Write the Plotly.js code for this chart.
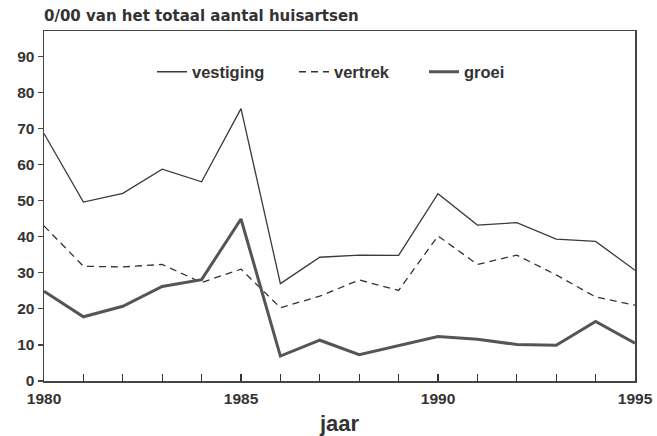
<!DOCTYPE html>
<html>
<head>
<meta charset="utf-8">
<script src="https://cdn.plot.ly/plotly-3.0.1.min.js"></script>
<style>html,body{margin:0;padding:0;background:#fff;}#chart{width:657px;height:436px;}</style>
</head>
<body>
<div id="chart"></div>
<script>
var years = [1980,1981,1982,1983,1984,1985,1986,1987,1988,1989,1990,1991,1992,1993,1994,1995];
var vestiging = [68.6,49.6,52.0,58.7,55.2,75.5,27.0,34.3,34.9,34.8,51.9,43.2,43.9,39.3,38.7,30.7];
var vertrek = [43.0,31.8,31.6,32.3,27.3,31.0,20.3,23.5,28.0,25.1,40.2,32.3,34.9,29.4,23.3,21.0];
var groei = [24.9,17.8,20.7,26.2,28.1,44.9,6.9,11.3,7.3,9.7,12.3,11.6,10.1,9.9,16.5,10.5];
var xTickLabels = ['1980','','','','','1985','','','','','1990','','','','','1995'];
var yTicks = [0,10,20,30,40,50,60,70,80,90];
var seriesNames = ['vestiging','vertrek','groei'];
var titleText = '0/00 van het totaal aantal huisartsen';
var xTitle = 'jaar';

var font = 'Liberation Sans, Arial, sans-serif';
var wideFont = 'DejaVu Sans, Liberation Sans, sans-serif';
var ink = '#333';
function b(s){ return s ? '<b>' + s + '</b>' : ''; }

var traces = [
  {x: years, y: vestiging, name: b(seriesNames[0]), mode: 'lines', line: {color: '#3a3a3a', width: 1.3}, legend: 'legend'},
  {x: years, y: vertrek, name: b(seriesNames[1]), mode: 'lines', line: {color: '#333', width: 1.3, dash: '7px,5px'}, legend: 'legend2'},
  {x: years, y: groei, name: b(seriesNames[2]), mode: 'lines', line: {color: '#555', width: 3}, legend: 'legend3'}
];
function leg(px){
  return {orientation: 'h', x: (px-44)/591, xanchor: 'left', y: (381-72)/350, yanchor: 'middle',
          font: {size: 16.5, family: font, color: ink}, bgcolor: 'rgba(0,0,0,0)', itemwidth: 30, borderwidth: 0};
}
var layout = {
  width: 657, height: 436,
  margin: {l: 44, r: 22, t: 31, b: 55},
  paper_bgcolor: '#fff', plot_bgcolor: '#fff',
  font: {family: font, color: ink, size: 16},
  showlegend: true,
  legend: leg(152), legend2: leg(294), legend3: leg(424),
  xaxis: {range: [1980, 1995], tickvals: years, ticktext: xTickLabels.map(b), ticks: 'inside', ticklen: 7, tickcolor: '#333', tickwidth: 1.2,
          showline: true, linecolor: '#444', linewidth: 1.5, mirror: true, showgrid: false, zeroline: false,
          ticklabelstandoff: 3,
          tickfont: {size: 15.5, family: font, color: ink},
          title: {text: b(xTitle), font: {size: 22, color: ink, family: font}, standoff: 10}},
  yaxis: {range: [0, 97], tickvals: yTicks, ticktext: yTicks.map(function(v){return b(String(v));}), ticks: 'outside', ticklen: 5, tickcolor: '#444', tickwidth: 1.2,
          showline: true, linecolor: '#444', linewidth: 1.5, mirror: true, showgrid: false, zeroline: false,
          tickfont: {size: 15.5, family: font, color: ink}},
  annotations: [
    {text: b(titleText), xref: 'paper', yref: 'paper', x: -2/591, xanchor: 'left', y: 1 + 15.5/350, yanchor: 'middle',
     showarrow: false, font: {size: 15, family: wideFont, color: ink}}
  ]
};
Plotly.newPlot('chart', traces, layout, {displayModeBar: false, staticPlot: true});
</script>
</body>
</html>
